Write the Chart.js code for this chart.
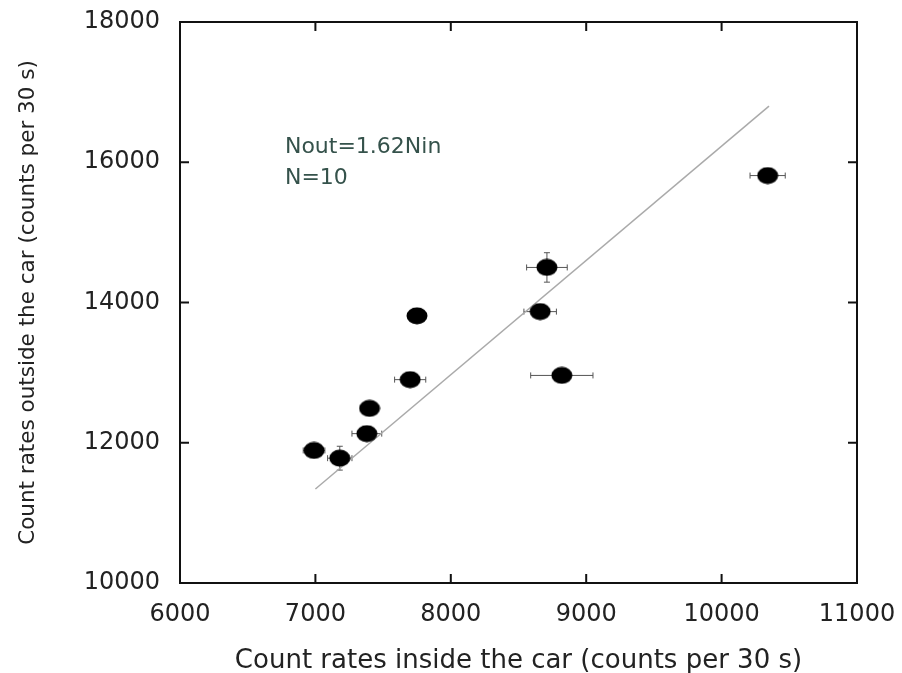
<!DOCTYPE html>
<html>
<head>
<meta charset="utf-8">
<script src="https://cdn.jsdelivr.net/npm/chart.js@4"></script>
<style>
  body { margin: 0; background: #fff; }
  #wrap { width: 902px; height: 673px; }
</style>
</head>
<body>
<div id="wrap"><canvas id="chart"></canvas></div>
<script>
// measured points
const inside = [6990, 7180, 7380, 7400, 7700, 7750, 8660, 8710, 8820, 10340];
const outside = [11890, 11780, 12130, 12490, 12900, 13810, 13870, 14500, 12960, 15810];
const insideErr = [80, 90, 110, 40, 115, 40, 120, 150, 230, 130];
const outsideErr = [40, 170, 60, 70, 50, 40, 90, 210, 40, 40];

// fit line Nout = 1.62 Nin
const fitX = [7000, 10350];
const fitY = [11340, 16800];

const xTicks = [6000, 7000, 8000, 9000, 10000, 11000];
const yTicks = [10000, 12000, 14000, 16000, 18000];

const fitLabel = ["Nout=1.62Nin", "N=10"];

const font = "'DejaVu Sans', sans-serif";

// ellipse marker like the original
const dot = document.createElement("canvas");
dot.width = 22; dot.height = 18;
(() => {
  const c = dot.getContext("2d");
  c.fillStyle = "#000";
  c.beginPath();
  c.ellipse(11, 9, 10.5, 8.5, 0, 0, Math.PI * 2);
  c.fill();
})();

const errorBars = {
  id: "errorBars",
  beforeDatasetsDraw(chart) {
    const { ctx, scales } = chart;
    const x = scales.x, y = scales.y;
    ctx.save();
    ctx.strokeStyle = "#555";
    ctx.lineWidth = 1;
    inside.forEach((v, i) => {
      const px = x.getPixelForValue(v);
      const py = y.getPixelForValue(outside[i]);
      const x0 = x.getPixelForValue(v - insideErr[i]);
      const x1 = x.getPixelForValue(v + insideErr[i]);
      const y0 = y.getPixelForValue(outside[i] - outsideErr[i]);
      const y1 = y.getPixelForValue(outside[i] + outsideErr[i]);
      ctx.beginPath();
      ctx.moveTo(x0, py); ctx.lineTo(x1, py);
      ctx.moveTo(x0, py - 3); ctx.lineTo(x0, py + 3);
      ctx.moveTo(x1, py - 3); ctx.lineTo(x1, py + 3);
      ctx.moveTo(px, y0); ctx.lineTo(px, y1);
      ctx.moveTo(px - 3, y0); ctx.lineTo(px + 3, y0);
      ctx.moveTo(px - 3, y1); ctx.lineTo(px + 3, y1);
      ctx.stroke();
    });
    ctx.restore();
  }
};

const frame = {
  id: "frame",
  afterDraw(chart) {
    const { ctx, chartArea: a, scales } = chart;
    ctx.save();
    ctx.strokeStyle = "#111";
    ctx.lineWidth = 2;
    ctx.strokeRect(a.left, a.top, a.right - a.left, a.bottom - a.top);
    ctx.beginPath();
    xTicks.forEach((t) => {
      const p = scales.x.getPixelForValue(t);
      ctx.moveTo(p, a.bottom); ctx.lineTo(p, a.bottom - 9);
      ctx.moveTo(p, a.top); ctx.lineTo(p, a.top + 9);
    });
    yTicks.forEach((t) => {
      const p = scales.y.getPixelForValue(t);
      ctx.moveTo(a.left, p); ctx.lineTo(a.left + 9, p);
      ctx.moveTo(a.right, p); ctx.lineTo(a.right - 9, p);
    });
    ctx.stroke();
    // fit annotation
    ctx.fillStyle = "#35524b";
    ctx.font = "22px " + font;
    ctx.textBaseline = "middle";
    const lx = scales.x.getPixelForValue(6775);
    ctx.fillText(fitLabel[0], lx, scales.y.getPixelForValue(16217));
    ctx.fillText(fitLabel[1], lx, scales.y.getPixelForValue(15775));
    ctx.restore();
  }
};

new Chart(document.getElementById("chart"), {
  type: "scatter",
  data: {
    datasets: [
      {
        label: "data",
        data: inside.map((v, i) => ({ x: v, y: outside[i] })),
        pointStyle: dot,
        pointRadius: 10,
        pointHoverRadius: 10,
        order: 0
      },
      {
        label: "fit",
        type: "line",
        data: fitX.map((v, i) => ({ x: v, y: fitY[i] })),
        borderColor: "#aaa",
        borderWidth: 1.5,
        pointRadius: 0,
        order: 1
      }
    ]
  },
  options: {
    responsive: true,
    maintainAspectRatio: false,
    animation: false,
    layout: { padding: { top: 22, right: 45, left: 0, bottom: 0 } },
    plugins: { legend: { display: false }, tooltip: { enabled: false } },
    scales: {
      x: {
        type: "linear",
        min: 6000,
        max: 11000,
        afterBuildTicks: (s) => { s.ticks = xTicks.map((v) => ({ value: v })); },
        afterFit: (s) => { s.height = 90; s.paddingLeft = 0; s.paddingRight = 0; },
        grid: { display: false, drawTicks: false },
        border: { display: false },
        ticks: { color: "#222", font: { family: font, size: 24 }, padding: 17, callback: (v) => String(v) },
        title: {
          display: true,
          text: "Count rates inside the car (counts per 30 s)",
          color: "#222",
          font: { family: font, size: 26 },
          padding: { top: 0, bottom: -4 }
        }
      },
      y: {
        type: "linear",
        min: 10000,
        max: 18000,
        afterBuildTicks: (s) => { s.ticks = yTicks.map((v) => ({ value: v })); },
        afterFit: (s) => { s.width = 180; s.paddingTop = 0; s.paddingBottom = 0; },
        grid: { display: false, drawTicks: false },
        border: { display: false },
        ticks: { color: "#222", font: { family: font, size: 24 }, padding: 20, callback: (v) => String(v) },
        title: {
          display: true,
          text: "Count rates outside the car (counts per 30 s)",
          color: "#222",
          font: { family: font, size: 21.5 },
          padding: { top: 16, bottom: 0 }
        }
      }
    }
  },
  plugins: [errorBars, frame]
});
</script>
</body>
</html>
